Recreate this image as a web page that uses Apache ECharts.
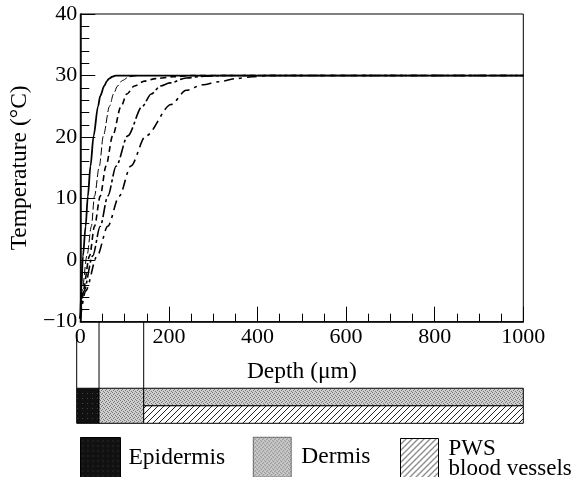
<!DOCTYPE html>
<html>
<head>
<meta charset="utf-8">
<script src="https://cdn.jsdelivr.net/npm/echarts@6/dist/echarts.min.js"></script>
<style>
  html, body { margin: 0; padding: 0; background: #fff; }
  #chart { width: 576px; height: 477px; }
</style>
</head>
<body>
<div id="chart"></div>
<script>
// temperature profiles (depth in um, temperature in C)
var depth1 = [0, 2, 6, 12, 17, 23, 30, 40, 45, 54, 60, 65, 72, 80, 100, 1000];
var temp1  = [-9.5, -5, 0.7, 5.5, 10.4, 15.3, 20.2, 25, 26.7, 28.3, 29.1, 29.5, 29.8, 30, 30, 30];
var depth2 = [0, 4, 15, 25, 32, 43, 52, 66, 75, 84, 95, 110, 130, 1000];
var temp2  = [-9.5, -5, 0.7, 5.5, 10.4, 15.3, 20.2, 25, 27, 28.3, 29.2, 29.8, 30, 30];
var depth3 = [0, 6, 21, 32, 45, 58, 73, 92, 105, 122, 145, 170, 210, 250, 1000];
var temp3  = [-9.5, -5, 0.7, 5.5, 10.4, 15.3, 20.2, 25, 27, 28.3, 29.1, 29.5, 29.8, 30, 30];
var depth4 = [0, 8, 28, 45, 62, 81, 107, 140, 160, 181, 202, 239, 280, 320, 1000];
var temp4  = [-9.5, -5, 0.7, 5.5, 10.4, 15.3, 20.2, 25, 27, 28.3, 28.8, 29.6, 29.9, 30, 30];
var depth5 = [0, 12, 38, 62, 88, 114, 148, 205, 239, 276, 313, 350, 388, 420, 1000];
var temp5  = [-9.5, -5, 0.7, 5.5, 10.4, 15.3, 20.2, 25.3, 27.6, 28.5, 29, 29.5, 29.8, 30, 30];

// skin layers drawn under the plot: [depthFrom, depthTo, rowFrom, rowTo]
var epidermisRects = [[0, 50, 0, 2]];
var dermisRects = [[50, 150, 0, 2], [150, 1000, 1, 2]];
var pwsRects = [[150, 1000, 0, 1]];
var boundaryDepth = [0, 50, 150];
var boundaryTop = [5.1, 5.8, 5.8];

var serif = 'Liberation Serif';

function zip(a, b) {
  var out = [];
  for (var i = 0; i < a.length; i++) out.push([a[i], b[i]]);
  return out;
}

function makePattern(kind) {
  var c = document.createElement('canvas');
  var ctx = c.getContext('2d');
  if (kind === 'dots') {
    c.width = 4; c.height = 4;
    ctx.fillStyle = '#cfcfcf';
    ctx.fillRect(0, 0, 4, 4);
    ctx.fillStyle = '#777';
    [[0, 0], [2, 1], [1, 2], [3, 3]].forEach(function (p) { ctx.fillRect(p[0], p[1], 1, 1); });
  } else if (kind === 'hatch') {
    c.width = 6; c.height = 6;
    ctx.fillStyle = '#fff';
    ctx.fillRect(0, 0, 6, 6);
    ctx.fillStyle = '#222';
    for (var i = 0; i < 6; i++) ctx.fillRect(i, 5 - i, 1, 1);
  } else {
    c.width = 5; c.height = 5;
    ctx.fillStyle = '#111';
    ctx.fillRect(0, 0, 5, 5);
    ctx.fillStyle = '#444';
    ctx.fillRect(2, 3, 1, 1);
  }
  return { image: c, repeat: 'repeat' };
}

var blackFill = makePattern('black');
var dotFill = makePattern('dots');
var hatchFill = makePattern('hatch');

function rectRenderer(fill) {
  return function (params, api) {
    var p0 = api.coord([api.value(0), api.value(2)]);
    var p1 = api.coord([api.value(1), api.value(3)]);
    return {
      type: 'rect',
      shape: { x: p0[0], y: p1[1], width: p1[0] - p0[0], height: p0[1] - p1[1] },
      style: { fill: fill, stroke: '#000', lineWidth: 1 }
    };
  };
}

function curve(name, d, t, width, dash) {
  return {
    name: name,
    type: 'line',
    xAxisIndex: 0,
    yAxisIndex: 0,
    data: zip(d, t),
    showSymbol: false,
    smooth: 0.3,
    smoothMonotone: 'x',
    lineStyle: { color: '#000', width: width, type: dash },
    z: 3
  };
}

var legendText = { fontFamily: serif, fontSize: 23.5, color: '#000' };

var myChart = echarts.init(document.getElementById('chart'));

var option = {
  animation: false,
  backgroundColor: '#fff',
  textStyle: { fontFamily: serif, color: '#000' },
  grid: [
    { left: 76.7, right: 52.7, top: 14, bottom: 155.3, show: true, borderColor: '#000', borderWidth: 1 },
    { left: 76.7, right: 52.7, top: 321.7, bottom: 53.7 }
  ],
  xAxis: [{
    type: 'value', gridIndex: 0, min: 0, max: 1000, interval: 200,
    name: 'Depth (μm)', nameLocation: 'middle', nameGap: 38,
    nameTextStyle: { fontFamily: serif, fontSize: 23.5, color: '#000' },
    axisLine: { onZero: false, lineStyle: { color: '#000', width: 1.5 } },
    axisTick: { inside: true, length: 15, lineStyle: { color: '#000', width: 1 } },
    minorTick: { show: true, splitNumber: 4, length: 8, lineStyle: { color: '#000', width: 1 } },
    axisLabel: {
      fontFamily: serif, fontSize: 22, color: '#000', margin: 5,
      formatter: function (v) { return String(v); }
    },
    splitLine: { show: false }
  }, {
    type: 'value', gridIndex: 1, min: 0, max: 1000, show: false
  }],
  yAxis: [{
    type: 'value', gridIndex: 0, min: -10, max: 40, interval: 10,
    name: 'Temperature (°C)', nameLocation: 'middle', nameGap: 47,
    nameTextStyle: { fontFamily: serif, fontSize: 23.5, color: '#000' },
    axisLine: { onZero: false, lineStyle: { color: '#000', width: 1.5 } },
    axisTick: { inside: true, length: 15, lineStyle: { color: '#000', width: 1 } },
    minorTick: { show: true, splitNumber: 5, length: 9, lineStyle: { color: '#000', width: 1 } },
    axisLabel: {
      fontFamily: serif, fontSize: 22, color: '#000', margin: 3,
      formatter: function (v) { return String(v).replace('-', '\u2212'); }
    },
    splitLine: { show: false }
  }, {
    type: 'value', gridIndex: 1, min: 0, max: 5.8, show: false
  }],
  legend: [
    { data: [{ name: 'Epidermis', icon: 'rect', itemStyle: { color: blackFill, borderColor: '#000', borderWidth: 1 } }],
      left: 80, top: 437, padding: 0, itemWidth: 40, itemHeight: 40, selectedMode: false,
      textStyle: Object.assign({ padding: [0, 0, 0, 3] }, legendText) },
    { data: [{ name: 'Dermis', icon: 'rect', itemStyle: { color: dotFill, borderColor: '#000', borderWidth: 0.5 } }],
      left: 253, top: 437, padding: 0, itemWidth: 38, itemHeight: 40, selectedMode: false,
      textStyle: Object.assign({ padding: [0, 0, 0, 5] }, legendText) },
    { data: [{ name: 'PWS\nblood vessels', icon: 'rect', itemStyle: { color: hatchFill, borderColor: '#000', borderWidth: 1 } }],
      left: 400, top: 437, padding: 0, itemWidth: 38, itemHeight: 40, selectedMode: false,
      textStyle: { fontFamily: serif, fontSize: 23, lineHeight: 20, color: '#000', padding: [0, 0, 0, 5] } }
  ],
  series: [
    curve('c1', depth1, temp1, 1.8, 'solid'),
    curve('c2', depth2, temp2, 1, [8, 3]),
    curve('c3', depth3, temp3, 1.6, [6, 4]),
    curve('c4', depth4, temp4, 1.6, [12, 3, 3, 3]),
    curve('c5', depth5, temp5, 1.6, [10, 5, 3, 5]),
    {
      name: 'Epidermis', type: 'custom', xAxisIndex: 1, yAxisIndex: 1,
      renderItem: rectRenderer(blackFill), data: epidermisRects,
      encode: { x: [0, 1], y: [2, 3] }, itemStyle: { color: blackFill }
    },
    {
      name: 'Dermis', type: 'custom', xAxisIndex: 1, yAxisIndex: 1,
      renderItem: rectRenderer(dotFill), data: dermisRects,
      encode: { x: [0, 1], y: [2, 3] }, itemStyle: { color: dotFill }
    },
    {
      name: 'PWS\nblood vessels', type: 'custom', xAxisIndex: 1, yAxisIndex: 1,
      renderItem: rectRenderer(hatchFill), data: pwsRects,
      encode: { x: [0, 1], y: [2, 3] }, itemStyle: { color: hatchFill }
    },
    {
      name: 'boundaries', type: 'custom', xAxisIndex: 1, yAxisIndex: 1,
      data: zip(boundaryDepth, boundaryTop),
      encode: { x: 0, y: 1 },
      renderItem: function (params, api) {
        var a = api.coord([api.value(0), 2]);
        var b = api.coord([api.value(0), api.value(1)]);
        return {
          type: 'line',
          shape: { x1: a[0], y1: a[1], x2: b[0], y2: b[1] },
          style: { stroke: '#000', lineWidth: 1 }
        };
      }
    }
  ]
};

myChart.setOption(option);
</script>
</body>
</html>
